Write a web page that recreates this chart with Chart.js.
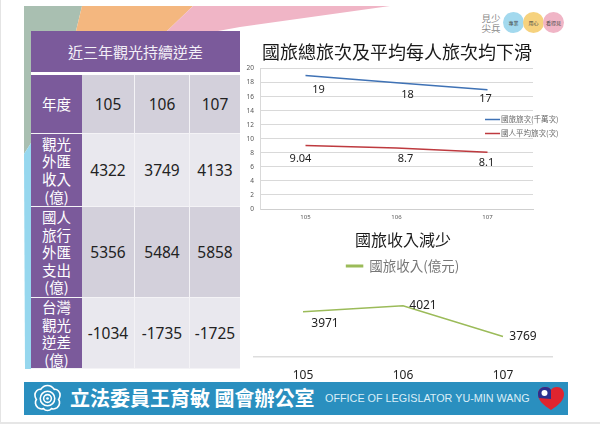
<!DOCTYPE html>
<html lang="zh-Hant"><head><meta charset="utf-8">
<script src="https://cdn.jsdelivr.net/npm/chart.js@4"></script>
<style>
html,body{margin:0;padding:0;background:#fff}
body{width:600px;height:424px;position:relative;overflow:hidden;font-family:"Noto Sans CJK TC","Noto Sans",sans-serif}
.abs{position:absolute}
#frameL{left:0;top:0;width:1px;height:424px;background:#e4e4e4}
#frameB{left:0;top:422px;width:600px;height:2px;background:#e6e6e6}
svg.abs{overflow:visible}
table{position:absolute;left:31px;top:31px;border-collapse:separate;border-spacing:0;table-layout:fixed;width:209px;height:338px}
td{padding:0;text-align:center;vertical-align:middle;border-right:1.5px solid #f4f3f6;border-bottom:1.5px solid #f4f3f6;box-sizing:border-box;color:#222;font:15.5px "Noto Sans",sans-serif}
td:last-child{border-right:0}
td.h{background:#7B5A9B;color:#fff;font:14.5px/17.6px "Noto Sans CJK TC",sans-serif;border-right:0}
td.title{background:#7B5A9B;color:#f3eff7;font:15px "Noto Sans CJK TC",sans-serif;border-bottom:3px solid #fff;letter-spacing:0}
tr.d td:not(.h){background:#D3D0DB}
tr.l td:not(.h){background:#E9E8EE}
#banner{left:24px;top:382px;width:544px;height:33px;background:#2A8FBF;color:#fff}
#bannerCn{left:46px;top:0;height:33px;font:700 20px/32px "Noto Sans CJK TC",sans-serif;white-space:pre}
#bannerEn{left:301px;top:0;font:10.8px/33px "Liberation Sans",sans-serif;white-space:nowrap;color:#dbeef7}
#c1{position:absolute;left:224px;top:38px}
#c2{position:absolute;left:253px;top:228px}
#brand{left:481px;top:13px;width:20px;font:9.5px/10px "Noto Sans CJK TC",sans-serif;color:#8a8a8a;text-align:center}
.dot{position:absolute;top:12px;width:21px;height:21px;border-radius:50%;font:5px/21px "Noto Sans CJK TC",sans-serif;color:#444;text-align:center;white-space:nowrap}
</style></head><body>
<svg class="abs" style="left:0;top:0" width="600" height="424">
  <polygon points="24,6 82,6 76,31 31,31 31,143 24,154" fill="#A9BFB1"/>
  <polygon points="82,6 193,6 167,31 76,31" fill="#F4B77F"/>
  <polygon points="193,6 390,6 240,27 218,31 167,31" fill="#F0B5C6"/>
  <polygon points="24,154 31,143 31,369 25,369" fill="#96D7EE"/>
</svg>
<table id="tbl"></table>
<div class="abs" id="brand">見少<br>尖兵</div>
<div class="dot" style="left:503px;background:#A3D9EE">專業</div>
<div class="dot" style="left:523px;background:#F6D27E">用心</div>
<div class="dot" style="left:543px;background:#F0B5C6">看得見</div>
<canvas id="c1" width="346" height="187"></canvas>
<canvas id="c2" width="300" height="154"></canvas>
<div class="abs" id="banner">
  <svg class="abs" style="left:9px;top:2px" width="29" height="29" viewBox="-15 -15 30 30">
    <g fill="none" stroke="#fff">
      <path stroke-width="1.7" d="M0,-13.5 C4,-13.5 6,-11 7,-9.5 C10,-10 13,-7 13,-3.5 C13,-1 12,0 11.5,1 C13,3 13,7 10,9.5 C8,11 5.5,11 4,10.5 C2,13 -2,13 -4,10.5 C-5.5,11 -8,11 -10,9.5 C-13,7 -13,3 -11.5,1 C-12,0 -13,-1 -13,-3.5 C-13,-7 -10,-10 -7,-9.5 C-6,-11 -4,-13.5 0,-13.5Z"/>
      <circle r="7.5" stroke-width="1.6"/><circle r="4" stroke-width="1.6"/>
    </g><circle r="1.4" fill="#fff"/>
  </svg>
  <div class="abs" id="bannerCn">立法委員王育敏 國會辦公室</div>
  <div class="abs" id="bannerEn">OFFICE OF LEGISLATOR YU-MIN WANG</div>
  <svg class="abs" style="left:514px;top:5px" width="26" height="23" viewBox="0 0 26 23">
    <path d="M13,23 C5,18 0,13 0,7 C0,3 3,0 7,0 C10,0 12,1 13,3 C14,1 16,0 19,0 C23,0 26,3 26,7 C26,13 21,18 13,23Z" fill="#E0242F"/>
    <path d="M0,7 C0,3 3,0 7,0 C10,0 12,1 13,3 L13,12 L0.8,11 C0.3,9.5 0,8.5 0,7Z" fill="#2B2F8F"/>
    <circle cx="6.5" cy="6" r="3" fill="#fff"/>
  </svg>
</div>
<div class="abs" id="frameL"></div><div class="abs" id="frameB"></div>
<script>
// ---- data ----
const tableTitle = "近三年觀光持續逆差";
const rowYearLabel = "年度";
const years = ["105", "106", "107"];
const tourismIncomeLabel = "觀光<br>外匯<br>收入<br>(億)";
const tourismIncome = [4322, 3749, 4133];
const travelSpendLabel = "國人<br>旅行<br>外匯<br>支出<br>(億)";
const travelSpend = [5356, 5484, 5858];
const deficitLabel = "台灣<br>觀光<br>逆差<br>(億)";
const deficit = [-1034, -1735, -1725];
const chart1Title = "國旅總旅次及平均每人旅次均下滑";
const tripsLabel = "國旅旅次(千萬次)";
const trips = [19, 18, 17];
const avgTripsLabel = "國人平均旅次(次)";
const avgTrips = [9.04, 8.7, 8.1];
const chart2Title = "國旅收入減少";
const revenueLabel = "國旅收入(億元)";
const revenue = [3971, 4021, 3769];

// ---- table ----
const cols = [51, 53, 55, 50];
const rowHeights = [44, 59, 73, 91, 71];
function row(cls, label, vals, h){
  return `<tr class="${cls}" style="height:${h}px"><td class="h">${label}</td>` +
    vals.map(v => `<td>${v}</td>`).join("") + "</tr>";
}
document.getElementById("tbl").innerHTML =
  "<colgroup>" + cols.map(w => `<col style="width:${w}px">`).join("") + "</colgroup>" +
  `<tr style="height:${rowHeights[0]}px"><td class="title" colspan="4">${tableTitle}</td></tr>` +
  row("d", rowYearLabel, years, rowHeights[1]) +
  row("l", tourismIncomeLabel, tourismIncome, rowHeights[2]) +
  row("d", travelSpendLabel, travelSpend, rowHeights[3]) +
  row("l", deficitLabel, deficit, rowHeights[4]);

// ---- value labels drawn at each point ----
const pointLabels = {
  id: "pointLabels",
  afterDatasetsDraw(chart){
    const c = chart.ctx;
    c.save();
    c.textAlign = "center"; c.textBaseline = "middle"; c.fillStyle = "#222";
    chart.data.datasets.forEach((ds, i) => {
      c.font = ds.labelFont;
      chart.getDatasetMeta(i).data.forEach((pt, j) => {
        const [dx, dy] = ds.labelShift[j];
        c.fillText(String(ds.data[j]), pt.x + dx, pt.y + dy);
      });
    });
    c.restore();
  }
};
// ---- chart-1 legend sits inside the plot's right edge ----
const innerLegend = {
  id: "innerLegend",
  afterDraw(chart){
    const c = chart.ctx;
    c.save();
    c.font = '7.5px "Noto Sans CJK TC"'; c.textBaseline = "middle"; c.textAlign = "left";
    chart.data.datasets.forEach((ds, i) => {
      const y = 81.5 + i * 14;
      c.strokeStyle = ds.borderColor; c.lineWidth = 1.5;
      c.beginPath(); c.moveTo(261, y); c.lineTo(276, y); c.stroke();
      c.fillStyle = "#666"; c.fillText(ds.label, 277, y);
    });
    c.restore();
  }
};
const fontCn = '"Noto Sans CJK TC"';
Chart.defaults.animation = false;
Chart.defaults.responsive = false;

new Chart(document.getElementById("c1"), {
  type: "line",
  data: { labels: years, datasets: [
    { label: tripsLabel, data: trips, borderColor: "#3F72B5", borderWidth: 1.5, pointRadius: 0, tension: 0,
      labelFont: '11px "Noto Sans"', labelShift: [[13,14],[11,12],[-2,9]] },
    { label: avgTripsLabel, data: avgTrips, borderColor: "#BE3A3F", borderWidth: 1.5, pointRadius: 0, tension: 0,
      labelFont: '11px "Noto Sans"', labelShift: [[-5,13],[9,11],[-1,11]] }
  ]},
  options: {
    plugins: {
      legend: { display: false },
      tooltip: { enabled: false },
      title: { display: true, text: chart1Title, color: "#1a1a1a",
        font: { family: fontCn, size: 18, weight: "normal" }, padding: { top: 3, bottom: 6 } }
    },
    scales: {
      x: { offset: true, grid: { display: false, drawTicks: false }, border: { color: "#cfcfcf" },
        ticks: { color: "#555", font: { size: 6, family: "Noto Sans" }, padding: 5 },
        afterFit(s){ s.height = 16; } },
      y: { min: 0, max: 20, grid: { color: "#D9D9D9", lineWidth: 1, drawTicks: false }, border: { color: "#D9D9D9" },
        ticks: { stepSize: 2, color: "#555", font: { size: 6.5, family: "Noto Sans" }, padding: 6 },
        afterFit(s){ s.width = 36; } },
      // empty right-hand axis: reserves the strip the legend overlaps, keeps the title centred on the canvas
      yRight: { position: "right", grid: { display: false }, border: { display: false }, ticks: { display: false },
        afterFit(s){ s.width = 37; } }
    }
  },
  plugins: [pointLabels, innerLegend]
});

new Chart(document.getElementById("c2"), {
  type: "line",
  data: { labels: years, datasets: [
    { label: revenueLabel, data: revenue, borderColor: "#9BBB59", backgroundColor: "#9BBB59", borderWidth: 1.5,
      pointRadius: 0, tension: 0, labelFont: '12px "Noto Sans"', labelShift: [[22,12],[20,0],[20,0]] }
  ]},
  options: {
    plugins: {
      tooltip: { enabled: false },
      title: { display: true, text: chart2Title, color: "#1a1a1a",
        font: { family: fontCn, size: 16, weight: "normal" }, padding: { top: 2, bottom: 4 } },
      legend: { display: true, position: "top",
        labels: { boxWidth: 16, boxHeight: 1.5, padding: 6, color: "#777", font: { family: fontCn, size: 13.5 } } }
    },
    scales: {
      x: { offset: true, grid: { display: false, drawTicks: false }, border: { color: "#DDDDDD", width: 1.5 },
        ticks: { color: "#222", font: { size: 12, family: "Noto Sans" }, padding: 11 },
        afterFit(s){ s.height = 25; } },
      y: { display: false, min: 3600, max: 4210 }
    }
  },
  plugins: [pointLabels]
});
</script>
</body></html>
